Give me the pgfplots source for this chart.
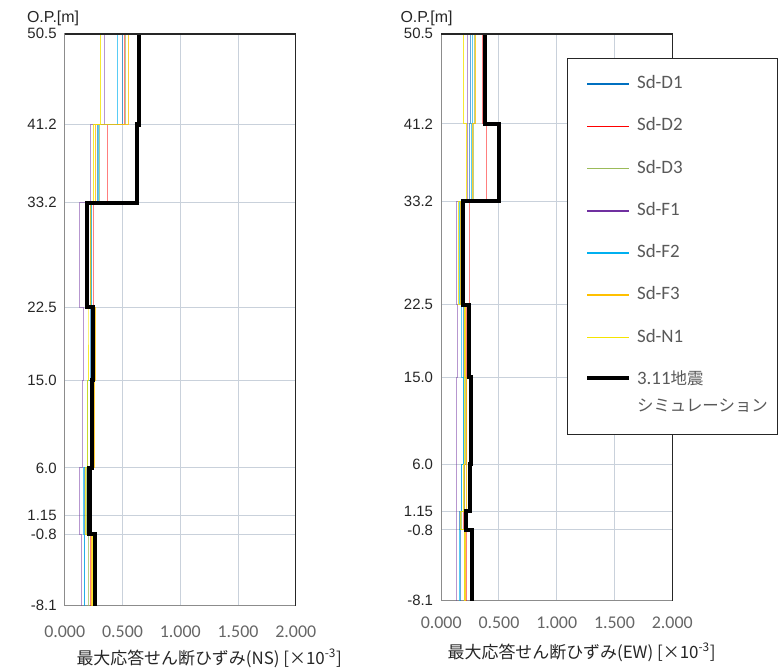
\documentclass[border=0pt]{standalone}
\usepackage{fontspec}
\setmainfont{Liberation Sans}
\newfontfamily\cjk{Noto Sans CJK JP}
\newfontfamily\calib{Carlito}
\usepackage{pgfplots}
\pgfplotsset{compat=1.18}
\definecolor{cD1}{HTML}{0070C0}
\definecolor{cD2}{HTML}{FF0000}
\definecolor{cD3}{HTML}{9BBB59}
\definecolor{cF1}{HTML}{7030A0}
\definecolor{cF2}{HTML}{00B0F0}
\definecolor{cF3}{HTML}{FFC000}
\definecolor{cN1}{HTML}{F5E400}
\definecolor{gridc}{HTML}{C9D1DB}
\pgfplotsset{
  myax/.style={
    scale only axis, width=232pt,
    xmin=0, xmax=2, ymin=-8.1, ymax=50.5,
    xtick={0,0.5,1,1.5,2},
    xticklabels={0.000,0.500,1.000,1.500,2.000},
    ytick={-8.1,-0.8,1.15,6,15,22.5,33.2,41.2,50.5},
    yticklabels={-8.1,-0.8,1.15,6.0,15.0,22.5,33.2,41.2,50.5},
    grid=major, major grid style={color=gridc, line width=1pt},
    major tick length=0pt,
    axis line style={color=black!45, line width=1pt},
    /pgf/number format/assume math mode=true,
    xticklabel style={font=\calib\fontsize{18}{20}\selectfont, text=black!60, anchor=base},
    yticklabel style={font=\fontsize{15}{17}\selectfont, text=black!85, anchor=east, inner sep=0pt, xshift=-8pt},
    no markers,
    after end axis/.code={\draw[black!85, line width=1.4pt] (rel axis cs:0,1) -- (rel axis cs:1,1) -- (rel axis cs:1,0);},
  },
  lgc/.style={legend image post style={opacity=1, line width=1.6pt}},
  sD1/.style={color=cD1, line width=1pt, opacity=0.6, lgc},
  sD2/.style={color=cD2, line width=1pt, opacity=0.5, lgc},
  sD3/.style={color=cD3, line width=1pt, opacity=0.7, lgc},
  sF1/.style={color=cF1, line width=1pt, opacity=0.5, lgc},
  sF2/.style={color=cF2, line width=1pt, opacity=0.65, lgc},
  sF3/.style={color=cF3, line width=1pt, opacity=0.8, lgc},
  sN1/.style={color=cN1, line width=1pt, opacity=0.8, lgc},
  sBk/.style={color=black, line width=4.2pt, line join=miter, line cap=butt},
}
\begin{document}
\begin{tikzpicture}[x=1pt,y=1pt]
\path (0,0) rectangle (778,672);
% ---------------- left (NS) ----------------
\begin{axis}[myax, at={(65pt,64pt)}, anchor=south west, height=574pt,
  xticklabel style={yshift=-32pt}]
\addplot[sD1] coordinates {(0.50,50.5)(0.50,41.2)(0.28,41.2)(0.28,33.2)(0.22,33.2)(0.22,22.5)(0.22,22.5)(0.22,15)(0.20,15)(0.20,6)(0.17,6)(0.17,1.15)(0.17,1.15)(0.17,-0.8)(0.17,-0.8)(0.17,-8.1)};
\addplot[sD2] coordinates {(0.52,50.5)(0.52,41.2)(0.37,41.2)(0.37,33.2)(0.245,33.2)(0.245,22.5)(0.25,22.5)(0.25,15)(0.24,15)(0.24,6)(0.20,6)(0.20,1.15)(0.20,1.15)(0.20,-0.8)(0.22,-0.8)(0.22,-8.1)};
\addplot[sD3] coordinates {(0.53,50.5)(0.53,41.2)(0.30,41.2)(0.30,33.2)(0.23,33.2)(0.23,22.5)(0.23,22.5)(0.23,15)(0.22,15)(0.22,6)(0.19,6)(0.19,1.15)(0.19,1.15)(0.19,-0.8)(0.21,-0.8)(0.21,-8.1)};
\addplot[sF1] coordinates {(0.34,50.5)(0.34,41.2)(0.22,41.2)(0.22,33.2)(0.13,33.2)(0.13,22.5)(0.165,22.5)(0.165,15)(0.15,15)(0.15,6)(0.13,6)(0.13,1.15)(0.13,1.15)(0.13,-0.8)(0.145,-0.8)(0.145,-8.1)};
\addplot[sF2] coordinates {(0.46,50.5)(0.46,41.2)(0.295,41.2)(0.295,33.2)(0.23,33.2)(0.23,22.5)(0.23,22.5)(0.23,15)(0.20,15)(0.20,6)(0.165,6)(0.165,1.15)(0.165,1.15)(0.165,-0.8)(0.175,-0.8)(0.175,-8.1)};
\addplot[sF3] coordinates {(0.555,50.5)(0.555,41.2)(0.265,41.2)(0.265,33.2)(0.22,33.2)(0.22,22.5)(0.265,22.5)(0.265,15)(0.255,15)(0.255,6)(0.20,6)(0.20,1.15)(0.20,1.15)(0.20,-0.8)(0.23,-0.8)(0.23,-8.1)};
\addplot[sN1] coordinates {(0.31,50.5)(0.31,41.2)(0.245,41.2)(0.245,33.2)(0.21,33.2)(0.21,22.5)(0.21,22.5)(0.21,15)(0.20,15)(0.20,6)(0.18,6)(0.18,1.15)(0.18,1.15)(0.18,-0.8)(0.24,-0.8)(0.24,-8.1)};
\addplot[sBk] coordinates {(0.645,50.5)(0.645,41.2)(0.625,41.2)(0.625,33.2)(0.19,33.2)(0.19,22.5)(0.245,22.5)(0.245,15)(0.235,15)(0.235,6)(0.215,6)(0.215,1.15)(0.215,1.15)(0.215,-0.8)(0.265,-0.8)(0.265,-8.1)};
\end{axis}
% ---------------- right (EW) ----------------
\begin{axis}[myax, at={(443pt,69pt)}, anchor=south west, height=569pt,
  xticklabel style={yshift=-28.5pt},
  legend style={at={(0.5431,0.9578)}, anchor=north west, draw=black!85, line width=1pt, fill=white,
    inner xsep=18pt, inner ysep=17.5pt, row sep=25.4pt, column sep=6pt, cells={anchor=center},
    nodes={inner sep=0pt, text height=13pt, text depth=4pt, text width=123pt, align=left,
      font=\calib\fontsize{19}{27}\selectfont, text=black!65}},
  legend image code/.code={\draw[#1] (0pt,0pt) -- (42pt,0pt);},
  ]
\addplot[sD1] coordinates {(0.25,50.5)(0.25,41.2)(0.244,41.2)(0.244,33.2)(0.17,33.2)(0.17,22.5)(0.19,22.5)(0.19,15)(0.19,15)(0.19,6)(0.18,6)(0.18,1.15)(0.16,1.15)(0.16,-0.8)(0.17,-0.8)(0.17,-8.1)};
\addlegendentry{Sd-D1}
\addplot[sD2] coordinates {(0.36,50.5)(0.36,41.2)(0.39,41.2)(0.39,33.2)(0.244,33.2)(0.244,22.5)(0.22,22.5)(0.22,15)(0.22,15)(0.22,6)(0.20,6)(0.20,1.15)(0.19,1.15)(0.19,-0.8)(0.22,-0.8)(0.22,-8.1)};
\addlegendentry{Sd-D2}
\addplot[sD3] coordinates {(0.287,50.5)(0.287,41.2)(0.278,41.2)(0.278,33.2)(0.18,33.2)(0.18,22.5)(0.20,22.5)(0.20,15)(0.21,15)(0.21,6)(0.20,6)(0.20,1.15)(0.18,1.15)(0.18,-0.8)(0.20,-0.8)(0.20,-8.1)};
\addlegendentry{Sd-D3}
\addplot[sF1] coordinates {(0.23,50.5)(0.23,41.2)(0.23,41.2)(0.23,33.2)(0.13,33.2)(0.13,22.5)(0.14,22.5)(0.14,15)(0.13,15)(0.13,6)(0.13,6)(0.13,1.15)(0.13,1.15)(0.13,-0.8)(0.13,-0.8)(0.13,-8.1)};
\addlegendentry{Sd-F1}
\addplot[sF2] coordinates {(0.267,50.5)(0.267,41.2)(0.26,41.2)(0.26,33.2)(0.16,33.2)(0.16,22.5)(0.18,22.5)(0.18,15)(0.19,15)(0.19,6)(0.18,6)(0.18,1.15)(0.17,1.15)(0.17,-0.8)(0.16,-0.8)(0.16,-8.1)};
\addlegendentry{Sd-F2}
\addplot[sF3] coordinates {(0.30,50.5)(0.30,41.2)(0.27,41.2)(0.27,33.2)(0.17,33.2)(0.17,22.5)(0.21,22.5)(0.21,15)(0.22,15)(0.22,6)(0.22,6)(0.22,1.15)(0.20,1.15)(0.20,-0.8)(0.21,-0.8)(0.21,-8.1)};
\addlegendentry{Sd-F3}
\addplot[sN1] coordinates {(0.19,50.5)(0.19,41.2)(0.215,41.2)(0.215,33.2)(0.15,33.2)(0.15,22.5)(0.20,22.5)(0.20,15)(0.20,15)(0.20,6)(0.19,6)(0.19,1.15)(0.17,1.15)(0.17,-0.8)(0.20,-0.8)(0.20,-8.1)};
\addlegendentry{Sd-N1}
\addplot[sBk] coordinates {(0.377,50.5)(0.377,41.2)(0.503,41.2)(0.503,33.2)(0.187,33.2)(0.187,22.5)(0.244,22.5)(0.244,15)(0.26,15)(0.26,6)(0.247,6)(0.247,1.15)(0.218,1.15)(0.218,-0.8)(0.267,-0.8)(0.267,-8.1)};
\addlegendentry[anchor=base, yshift=-6pt, text depth=33pt]{{3.11{\cjk\fontsize{16.5}{27}\selectfont 地震}\\{\cjk\fontsize{16.5}{27}\selectfont シミュレーション}}}
\end{axis}
% ---------------- titles ----------------
\node[anchor=west, font=\fontsize{16}{18}\selectfont, text=black!85, inner sep=0pt] at (27,654) {O.P.[m]};
\node[anchor=west, font=\fontsize{16}{18}\selectfont, text=black!85, inner sep=0pt] at (402,654) {O.P.[m]};
\node[font=\cjk\fontsize{17}{20}\selectfont, text=black!85, inner sep=0pt] at (210,11) {最大応答せん断ひずみ(NS) [×10\textsuperscript{-3}]};
\node[font=\cjk\fontsize{17}{20}\selectfont, text=black!85, inner sep=0pt] at (584,17) {最大応答せん断ひずみ(EW) [×10\textsuperscript{-3}]};
\end{tikzpicture}
\end{document}
